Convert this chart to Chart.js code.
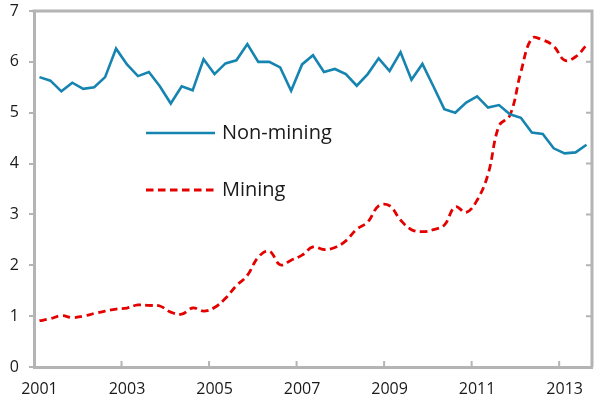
<!DOCTYPE html>
<html>
<head>
<meta charset="utf-8">
<script src="https://cdn.jsdelivr.net/npm/chart.js@4.4.0/dist/chart.umd.min.js"></script>
<style>
  body { margin: 0; background: #fff; }
  #wrap { width: 611px; height: 402px; }
</style>
</head>
<body>
<div id="wrap"><canvas id="myChart"></canvas></div>
<script>
// quarterly, 2001 Q1 .. 2013 Q3
const years = [2001, 2002, 2003, 2004, 2005, 2006, 2007, 2008, 2009, 2010, 2011, 2012, 2013];
const quarters = [];
years.forEach((y) => ["Q1", "Q2", "Q3", "Q4"].forEach((q) => quarters.push(y + " " + q)));
quarters.length = 51;

const yearTicks = ["2001", "2003", "2005", "2007", "2009", "2011", "2013"];

const nonMining = [
   5.70, 5.63, 5.42, 5.59, 5.47, 5.50, 5.70, 6.26, 5.95, 5.72, 5.80, 5.52, 5.18,
   5.52, 5.44, 6.05, 5.76, 5.97, 6.03, 6.35, 6.00, 6.00, 5.89, 5.43, 5.95, 6.13,
   5.80, 5.86, 5.76, 5.53, 5.76, 6.07, 5.82, 6.19, 5.65, 5.96, 5.52, 5.07, 5.00,
   5.20, 5.32, 5.10, 5.15, 4.97, 4.90, 4.61, 4.58, 4.30, 4.20, 4.22, 4.37,
];

const mining = [
   0.91, 0.95, 1.01, 0.97, 1.00, 1.05, 1.10, 1.14, 1.16, 1.22, 1.21, 1.20, 1.08,
   1.04, 1.16, 1.10, 1.17, 1.35, 1.60, 1.80, 2.16, 2.28, 2.01, 2.10, 2.20, 2.36,
   2.31, 2.35, 2.48, 2.71, 2.85, 3.17, 3.17, 2.89, 2.70, 2.66, 2.70, 2.79, 3.15,
   3.04, 3.28, 3.79, 4.74, 4.95, 5.80, 6.46, 6.43, 6.31, 6.03, 6.10, 6.33,
];

const frameColor = "#b4b4b4";
const textColor = "#1a1a1a";

// frame, inward tick marks and the legend inside the plot
const framePlugin = {
   id: "frame",
   afterDraw(chart) {
      const ctx = chart.ctx;
      const a = chart.chartArea;
      const xs = chart.scales.x;
      const ys = chart.scales.y;
      ctx.save();
      ctx.strokeStyle = frameColor;
      ctx.lineWidth = 3;
      ctx.beginPath();
      ctx.moveTo(a.left - 1.5, a.top);
      ctx.lineTo(a.right, a.top);
      ctx.lineTo(a.right, a.bottom);
      ctx.stroke();

      ctx.lineWidth = 2;
      ctx.beginPath();
      ys.ticks.forEach((t) => {
         const y = ys.getPixelForValue(t.value);
         ctx.moveTo(a.right, y);
         ctx.lineTo(a.right - 6, y);
      });
      const w = xs.getPixelForValue(1) - xs.getPixelForValue(0);
      quarters.forEach((q, i) => {
         if (yearTicks.includes(q.slice(0, 4)) && q.endsWith("Q1")) {
            const x = xs.getPixelForValue(i) - w / 2;
            ctx.moveTo(x, a.bottom);
            ctx.lineTo(x, a.bottom - 6);
         }
      });
      ctx.stroke();

      // legend
      const lx = a.left + 112;
      const rows = [a.top + 122, a.top + 179];
      ctx.font = '20px "Open Sans"';
      ctx.textBaseline = "middle";
      chart.data.datasets.forEach((ds, i) => {
         ctx.strokeStyle = ds.borderColor;
         ctx.lineWidth = ds.borderWidth;
         ctx.setLineDash(ds.borderDash || []);
         ctx.beginPath();
         ctx.moveTo(lx, rows[i]);
         ctx.lineTo(lx + 69, rows[i]);
         ctx.stroke();
         ctx.setLineDash([]);
         ctx.fillStyle = textColor;
         ctx.fillText(ds.label, lx + 76, rows[i]);
      });
      ctx.restore();
   },
};

const ctx = document.getElementById("myChart");
new Chart(ctx, {
   type: "line",
   data: {
      labels: quarters,
      datasets: [
         {
            label: "Non-mining",
            data: nonMining,
            borderColor: "#1684b0",
            borderWidth: 2.6,
            pointRadius: 0,
            tension: 0,
         },
         {
            label: "Mining",
            data: mining,
            borderColor: "#e50000",
            borderWidth: 2.8,
            borderDash: [7.5, 4.5],
            pointRadius: 0,
            tension: 0.4,
         },
      ],
   },
   options: {
      responsive: true,
      maintainAspectRatio: false,
      animation: false,
      layout: { padding: { top: 11, right: 19, bottom: 0, left: 0 } },
      plugins: { legend: { display: false }, tooltip: { enabled: false } },
      scales: {
         x: {
            offset: true,
            grid: { display: false, drawTicks: false },
            border: { display: true, color: frameColor, width: 3 },
            ticks: {
               autoSkip: false,
               maxRotation: 0,
               padding: 13,
               color: textColor,
               font: { family: "Open Sans", size: 16 },
               callback: function (val, i) {
                  const q = quarters[i];
                  if (q.endsWith("Q1") && yearTicks.includes(q.slice(0, 4))) return q.slice(0, 4);
                  return null;
               },
            },
            afterFit: (s) => { s.height = 35; s.paddingLeft = 0; s.paddingRight = 0; },
         },
         y: {
            min: 0,
            max: 7,
            grid: { drawOnChartArea: false, drawTicks: true, tickLength: 5, color: frameColor, lineWidth: 2 },
            border: { display: true, color: frameColor, width: 3 },
            ticks: {
               stepSize: 1,
               padding: 10,
               color: textColor,
               font: { family: "Open Sans", size: 16 },
            },
            afterFit: (s) => { s.width = 34; s.paddingTop = 0; s.paddingBottom = 0; },
         },
      },
   },
   plugins: [framePlugin],
});
</script>
</body>
</html>
